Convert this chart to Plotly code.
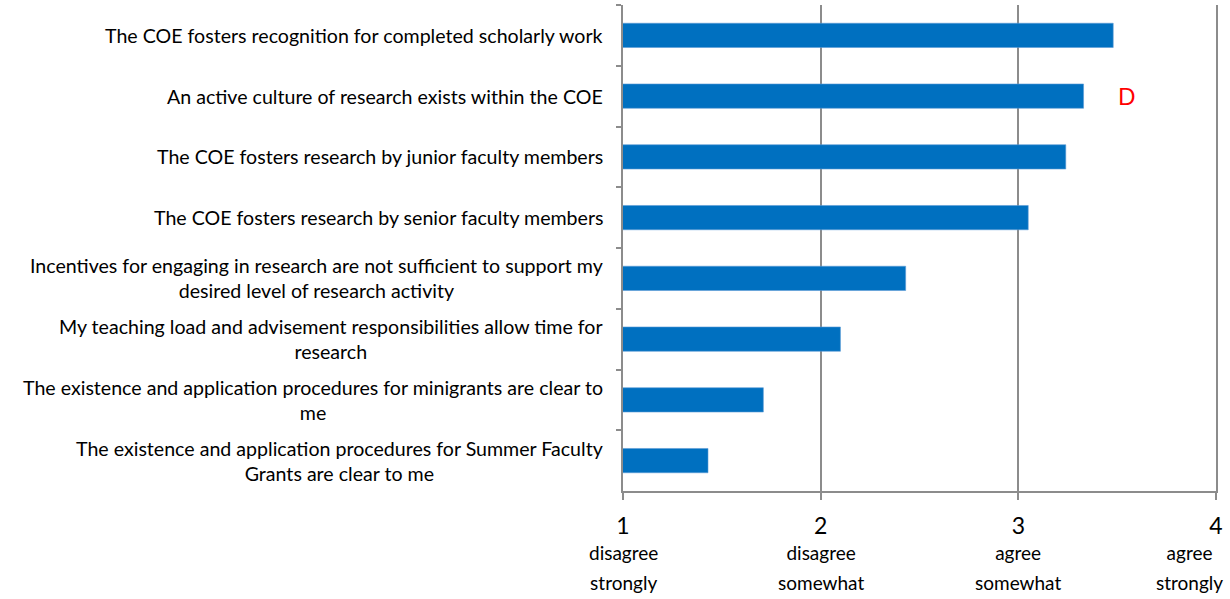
import plotly.graph_objects as go

# Survey statements, listed top to bottom
statements = [
    "The COE fosters recognition for completed scholarly work",
    "An active culture of research exists within the COE",
    "The COE fosters research by junior faculty members",
    "The COE fosters research by senior faculty members",
    "Incentives for engaging in research are not sufficient to support my<br>desired level of research activity",
    "My teaching load and advisement responsibilities allow time for<br>research",
    "The existence and application procedures for minigrants are clear to<br>me",
    "The existence and application procedures for Summer Faculty<br>Grants are clear to me",
]

# Mean rating on the 1-4 scale
mean_scores = [3.48, 3.33, 3.24, 3.05, 2.43, 2.10, 1.71, 1.43]

# Rating scale
scale_values = [1, 2, 3, 4]
scale_words = [
    "disagree<br>strongly",
    "disagree<br>somewhat",
    "agree<br>somewhat",
    "agree<br>strongly",
]

# Red flag shown beside one statement
flag_text = "D"
flag_statement = statements[1]
flag_x = 3.55

FONT = "Lato"
BAR_COLOR = "#0070C0"
GRID_COLOR = "#8C8C8C"

fig = go.Figure()
fig.add_trace(
    go.Bar(
        x=mean_scores,
        y=statements,
        orientation="h",
        base=0,
        width=0.4,
        marker=dict(color=BAR_COLOR, line=dict(color="#5B9BD5", width=0.6)),
        hoverinfo="x+y",
    )
)

fig.update_xaxes(
    range=[1, 4],
    tickvals=scale_values,
    ticktext=[str(v) for v in scale_values],
    tickfont=dict(family=FONT, size=23, color="#000000"),
    ticklabelstandoff=7,
    ticklabeloverflow="allow",
    automargin=False,
    showgrid=True,
    gridcolor=GRID_COLOR,
    gridwidth=1.5,
    showline=True,
    linecolor=GRID_COLOR,
    linewidth=1.5,
    ticks="outside",
    ticklen=7,
    tickcolor=GRID_COLOR,
    tickwidth=1.5,
    zeroline=False,
    fixedrange=True,
)

fig.update_yaxes(
    categoryorder="array",
    categoryarray=statements,
    autorange="reversed",
    showticklabels=False,
    automargin=False,
    ticks="outside",
    tickson="boundaries",
    ticklen=5,
    tickcolor=GRID_COLOR,
    tickwidth=1.5,
    showline=True,
    mirror=True,
    linecolor=GRID_COLOR,
    linewidth=1.5,
    showgrid=False,
    fixedrange=True,
)

# Verbal meaning of each scale point, under its number;
# the last one is kept inside the page by anchoring it on its right edge
for v, words in zip(scale_values, scale_words):
    last = v == max(scale_values)
    fig.add_annotation(
        x=v,
        xref="x",
        y=0,
        yref="paper",
        text="<br>".join(f"<span style='font-size:19px'>{w}</span>" for w in words.split("<br>")),
        showarrow=False,
        xanchor="right" if last else "center",
        yanchor="top",
        xshift=9 if last else 0,
        yshift=-48,
        align="center",
        font=dict(family=FONT, size=23, color="#000000"),
    )

# Statement labels: block right-aligned to the axis, lines centred within the block
for s in statements:
    fig.add_annotation(
        x=0,
        xref="paper",
        y=s,
        yref="y",
        text=s,
        showarrow=False,
        xanchor="right",
        yanchor="middle",
        xshift=-18,
        align="center",
        font=dict(family=FONT, size=19.6, color="#000000"),
    )

fig.add_annotation(
    x=flag_x,
    y=flag_statement,
    xref="x",
    yref="y",
    text=flag_text,
    showarrow=False,
    font=dict(family=FONT, size=23, color="#FF0000"),
)

fig.update_layout(
    width=1230,
    height=599,
    margin=dict(l=623, r=14, t=5, b=108),
    paper_bgcolor="#FFFFFF",
    plot_bgcolor="#FFFFFF",
    showlegend=False,
    bargap=0.6,
    font=dict(family=FONT, color="#000000"),
)

fig.write_html("out.html")
